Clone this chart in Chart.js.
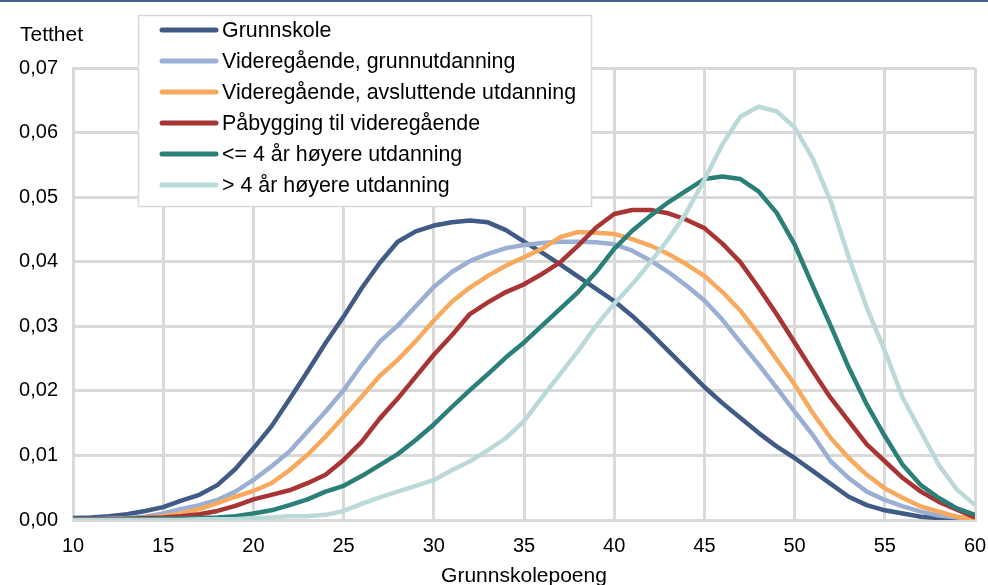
<!DOCTYPE html>
<html>
<head>
<meta charset="utf-8">
<script src="https://cdn.jsdelivr.net/npm/chart.js@4.4.1/dist/chart.umd.min.js"></script>
<style>
  html, body { margin: 0; padding: 0; background: #fff; }
  #wrap { position: relative; width: 988px; height: 585px; }
</style>
</head>
<body>
<div id="wrap"><canvas id="chart" width="988" height="585"></canvas></div>
<script>
/* ---- Data (density by grunnskolepoeng) ---- */
const points = [10,11,12,13,14,15,16,17,18,19,20,21,22,23,24,25,26,27,28,29,30,31,32,33,34,35,
  36,37,38,39,40,41,42,43,44,45,46,47,48,49,50,51,52,53,54,55,56,57,58,59,60];

const seriesNames = [
  'Grunnskole',
  'Videregående, grunnutdanning',
  'Videregående, avsluttende utdanning',
  'Påbygging til videregående',
  '<= 4 år høyere utdanning',
  '> 4 år høyere utdanning'
];

const grunnskole = [0.0003,0.0004,0.0006,0.0009,0.0014,0.0020,0.0030,0.0039,0.0054,0.0079,0.0111,0.0145,0.0187,0.0230,0.0274,0.0315,
  0.0359,0.0398,0.0431,0.0447,0.0456,0.0461,0.0464,0.0461,0.0449,0.0431,0.0414,0.0396,0.0377,0.0358,0.0339,0.0316,0.0290,0.0262,
  0.0234,0.0206,0.0181,0.0158,0.0135,0.0114,0.0096,0.0076,0.0056,0.0036,0.0023,0.0015,0.0010,0.0005,0.0003,0.0002,0.0001];

const vgGrunn = [0.0001,0.0001,0.0002,0.0003,0.0005,0.0010,0.0017,0.0023,0.0031,0.0044,0.0062,0.0083,0.0106,0.0137,0.0168,0.0201,
  0.0240,0.0276,0.0301,0.0331,0.0361,0.0384,0.0401,0.0412,0.0421,0.0426,0.0429,0.0431,0.0431,0.0430,0.0427,0.0417,0.0402,0.0384,
  0.0363,0.0340,0.0310,0.0275,0.0241,0.0205,0.0168,0.0132,0.0091,0.0065,0.0044,0.0031,0.0021,0.0013,0.0007,0.0004,0.0002];

const vgAvsl = [0.0000,0.0001,0.0001,0.0002,0.0003,0.0006,0.0010,0.0017,0.0026,0.0036,0.0045,0.0057,0.0077,0.0101,0.0129,0.0160,
  0.0191,0.0223,0.0248,0.0277,0.0309,0.0338,0.0360,0.0378,0.0394,0.0407,0.0420,0.0438,0.0446,0.0445,0.0443,0.0435,0.0425,0.0412,
  0.0396,0.0378,0.0353,0.0324,0.0288,0.0249,0.0210,0.0166,0.0127,0.0096,0.0070,0.0049,0.0034,0.0021,0.0013,0.0005,0.0001];

const paabygging = [0.0001,0.0001,0.0001,0.0002,0.0003,0.0004,0.0006,0.0009,0.0014,0.0022,0.0032,0.0039,0.0046,0.0057,0.0070,0.0093,
  0.0121,0.0157,0.0188,0.0222,0.0256,0.0286,0.0319,0.0337,0.0353,0.0365,0.0381,0.0399,0.0425,0.0453,0.0474,0.0480,0.0480,0.0475,
  0.0465,0.0452,0.0428,0.0399,0.0360,0.0319,0.0275,0.0231,0.0189,0.0153,0.0117,0.0091,0.0065,0.0044,0.0028,0.0016,0.0004];

const hoyereKort = [0.0000,0.0000,0.0000,0.0001,0.0001,0.0002,0.0002,0.0003,0.0004,0.0006,0.0010,0.0015,0.0023,0.0032,0.0044,0.0053,
  0.0068,0.0085,0.0102,0.0124,0.0148,0.0175,0.0201,0.0226,0.0252,0.0275,0.0301,0.0327,0.0353,0.0384,0.0420,0.0448,0.0471,0.0492,
  0.0510,0.0528,0.0532,0.0528,0.0509,0.0476,0.0427,0.0363,0.0301,0.0236,0.0179,0.0130,0.0085,0.0054,0.0034,0.0018,0.0008];

const hoyereLang = [0.0000,0.0000,0.0000,0.0000,0.0000,0.0000,0.0000,0.0001,0.0001,0.0001,0.0003,0.0004,0.0006,0.0006,0.0008,0.0014,
  0.0025,0.0035,0.0044,0.0053,0.0062,0.0077,0.0091,0.0108,0.0127,0.0153,0.0190,0.0226,0.0262,0.0301,0.0335,0.0365,0.0399,0.0435,
  0.0476,0.0527,0.0582,0.0625,0.0640,0.0633,0.0608,0.0560,0.0494,0.0407,0.0329,0.0262,0.0189,0.0137,0.0085,0.0047,0.0023];

const allSeries = [grunnskole, vgGrunn, vgAvsl, paabygging, hoyereKort, hoyereLang];
const colors = ['#3f5b86', '#9bafd4', '#f7aa5e', '#a83434', '#2b7f79', '#bcd9d9'];

const FONT = 'Liberation Sans, Arial, sans-serif';
const GRID = '#d9d9d9';

/* ---- Overlay: top rule, y-label and the boxed legend ---- */
const overlayPlugin = {
  id: 'overlay',
  afterDraw(chart) {
    const c = chart.ctx;
    c.save();
    c.fillStyle = '#41608c';
    c.fillRect(0, 0, chart.width, 2);

    c.fillStyle = '#000';
    c.font = '21px ' + FONT;
    c.textAlign = 'left';
    c.textBaseline = 'alphabetic';
    c.fillText('Tetthet', 20, 41);

    // legend box
    c.fillStyle = '#fff';
    c.fillRect(138, 15, 454, 192);
    c.strokeStyle = GRID;
    c.lineWidth = 1.5;
    c.strokeRect(138.5, 15.5, 453, 191);

    c.font = '21.4px ' + FONT;
    c.textBaseline = 'middle';
    c.lineCap = 'round';
    seriesNames.forEach((name, i) => {
      const y = 30 + i * 31;
      c.strokeStyle = colors[i];
      c.lineWidth = 5;
      c.beginPath();
      c.moveTo(162, y);
      c.lineTo(216, y);
      c.stroke();
      c.fillStyle = '#000';
      c.fillText(name, 222, y + 1);
    });
    c.restore();
  }
};

new Chart(document.getElementById('chart'), {
  type: 'line',
  data: {
    datasets: allSeries.map((vals, i) => ({
      label: seriesNames[i],
      data: points.map((x, j) => ({ x, y: vals[j] })),
      borderColor: colors[i],
      borderWidth: 4.5,
      borderJoinStyle: 'round',
      pointRadius: 0,
      tension: 0,
      fill: false,
      order: allSeries.length - 1 - i,
    }))
  },
  options: {
    responsive: false,
    animation: false,
    layout: { padding: { top: 68, right: 13, left: 0, bottom: 0 } },
    plugins: { legend: { display: false }, tooltip: { enabled: false } },
    scales: {
      x: {
        type: 'linear', min: 10, max: 60,
        afterFit: s => { s.height = 65; s.paddingLeft = 0; s.paddingRight = 0; },
        ticks: { stepSize: 5, color: '#000', padding: 14, maxRotation: 0, font: { family: FONT, size: 20 } },
        grid: { color: GRID, lineWidth: 3, drawTicks: false },
        border: { color: GRID, width: 3 },
        title: { display: true, text: 'Grunnskolepoeng', color: '#000', padding: { top: 0, bottom: -4 }, font: { family: FONT, size: 21 } }
      },
      y: {
        min: 0, max: 0.07,
        afterFit: s => { s.width = 73; s.paddingTop = 0; s.paddingBottom = 0; },
        ticks: { stepSize: 0.01, color: '#000', padding: 15, font: { family: FONT, size: 20 },
          callback: v => v.toFixed(2).replace('.', ',') },
        grid: { color: GRID, lineWidth: 3, drawTicks: false },
        border: { color: GRID, width: 3 }
      }
    }
  },
  plugins: [overlayPlugin]
});
</script>
</body>
</html>
